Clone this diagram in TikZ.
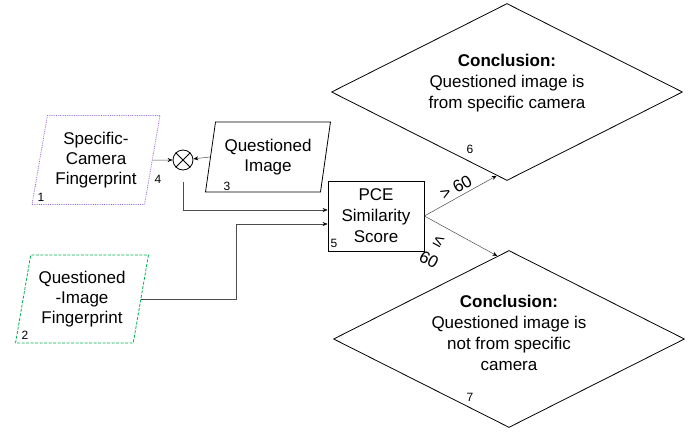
\documentclass[tikz,border=0pt]{standalone}
\usepackage{fontspec}
\setmainfont{Liberation Sans}
\usetikzlibrary{shapes.geometric, calc, arrows.meta}
\definecolor{fpviolet}{RGB}{153,102,204}
\definecolor{fpgreen}{RGB}{0,176,80}

\begin{document}
\begin{tikzpicture}
[>={Stealth[length=5pt, width=4pt, black]}, x=1pt, y=-1pt,
 io/.style={trapezium, trapezium left angle=77, trapezium right angle=103, trapezium stretches=true, inner sep=0, align=center, font=\fontsize{17}{20}\selectfont},
 decision/.style={diamond, draw, thick, aspect=2, inner sep=0, minimum width=351pt, minimum height=177pt},
 txt/.style={align=center, font=\fontsize{17}{21}\selectfont},
 num/.style={inner sep=0, font=\fontsize{12}{13}\selectfont},
 link/.style={draw=black!70, line width=0.5pt}]
\useasboundingbox (0,0) rectangle (698,431);
\node (fp) [io, draw=fpviolet, densely dotted, thick, minimum width=128pt, minimum height=89pt] at (96,160) {Specific-\\Camera\\Fingerprint};
\node (qfp) [io, draw=fpgreen, dash pattern=on 3pt off 1.5pt, thick, minimum width=133pt, minimum height=88pt] at (82,299) {Questioned\\-Image\\Fingerprint};
\node (qimg) [io, draw, thick, minimum width=125pt, minimum height=70pt] at (268,157) {Questioned\\Image};
\node (mult) [circle, draw, thick, minimum size=20pt, inner sep=0] at (183,160) {};
\draw [thick] (mult.north east) -- (mult.south west) (mult.north west) -- (mult.south east);
\node (pce) [draw, thick, minimum width=96pt, minimum height=70pt, inner sep=0, txt] at (376,216) {PCE\\Similarity\\Score};
\node (yes) [decision] at (507,92) {};
\node (no) [decision] at (509,339) {};
\node (yestxt) [txt] at (507,83) {\textbf{Conclusion:}\\Questioned image is\\from specific camera};
\node (notxt) [txt] at (509,333) {\textbf{Conclusion:}\\Questioned image is\\not from specific\\camera};
\node (l1) [num] at (41,197) {1};
\node (l2) [num] at (25,335) {2};
\node (l3) [num] at (227,186) {3};
\node (l4) [num] at (158,179) {4};
\node (l5) [num] at (334,243) {5};
\node (l6) [num] at (470,149) {6};
\node (l7) [num] at (470,397) {7};
\draw [link, ->] (fp.east) -- (mult);
\draw [link, ->] (qimg.west) -- (mult);
\draw [link, ->, shorten <=12pt] (mult.south) |- ($(pce.west)+(0,-6)$);
\draw [link, ->] (qfp.east) -- ++(95,0) |- ($(pce.west)+(0,8)$);
\draw [link, ->] (pce.east) -- node [sloped, above, pos=0.5, txt] {> 60} (yes.-97);
\draw [link, ->] (pce.east) -- node [sloped, below=7pt, pos=0.3, txt] {≤\\60} (no.98);
\end{tikzpicture}
\end{document}
